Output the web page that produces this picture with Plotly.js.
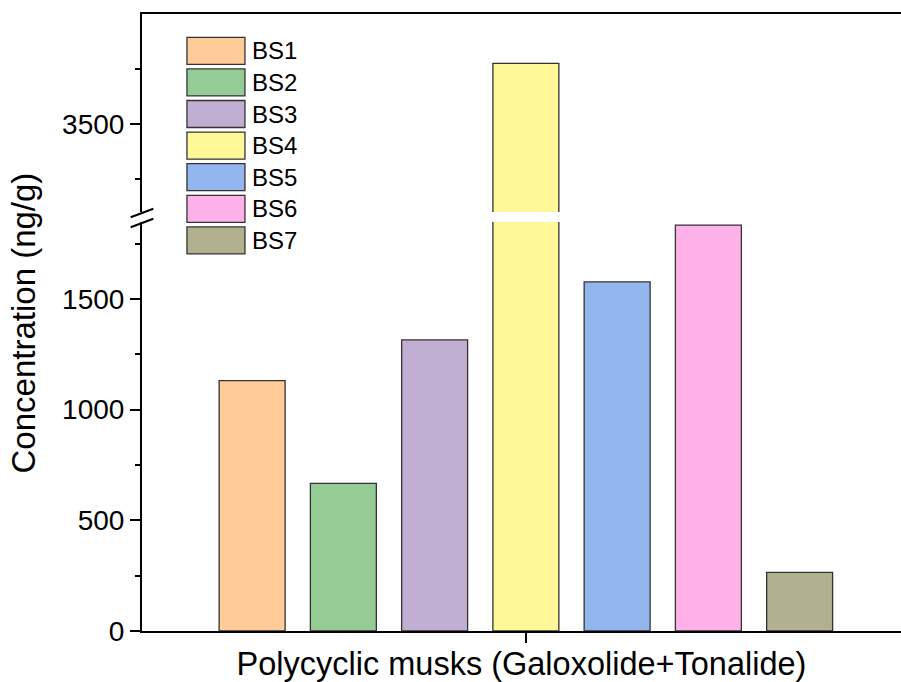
<!DOCTYPE html>
<html>
<head>
<meta charset="utf-8">
<script src="https://cdn.plot.ly/plotly-3.0.1.min.js"></script>
<style>
  html, body { margin: 0; padding: 0; background: #fff; }
  #chart { width: 901px; height: 682px; }
</style>
</head>
<body>
<div id="chart"></div>
<script>
// ---- data ----
const category = ['Polycyclic musks'];
const seriesNames = ['BS1', 'BS2', 'BS3', 'BS4', 'BS5', 'BS6', 'BS7'];
const seriesValues = [1131, 667, 1315, 3774, 1577, 1834, 265];
const seriesColors = ['#FFCC99', '#95CC96', '#C1AED3', '#FFF898', '#93B6EE', '#FFB2EA', '#B1B18F'];
const xTitle = 'Polycyclic musks (Galoxolide+Tonalide)';
const yTitle = 'Concentration (ng/g)';
const lowerRange = [0, 1848];
const upperRange = [3102, 3997];
const lowerTicks = [0, 500, 1000, 1500];
const upperTicks = [3500];

const FONT = '"Liberation Sans", Arial, sans-serif';
const traces = [];
seriesNames.forEach((name, i) => {
  const common = {
    type: 'bar',
    name: name,
    x: category,
    y: [seriesValues[i]],
    legendgroup: name,
    marker: { color: seriesColors[i], line: { color: '#333333', width: 1.3 } },
    hoverinfo: 'name+y'
  };
  traces.push(Object.assign({}, common, { xaxis: 'x', yaxis: 'y', showlegend: true }));
  traces.push(Object.assign({}, common, { xaxis: 'x2', yaxis: 'y2', showlegend: false }));
});

const axisCommon = {
  showline: true, linecolor: '#000', linewidth: 2,
  ticks: 'outside', ticklen: 10, tickwidth: 2, tickcolor: '#000',
  showgrid: false, zeroline: false,
  tickfont: { family: FONT, size: 28, color: '#000' }
};

const layout = {
  width: 901, height: 682,
  margin: { l: 142, r: 0, t: 14, b: 51 },
  paper_bgcolor: '#fff', plot_bgcolor: 'rgba(0,0,0,0)',
  font: { family: FONT, color: '#000' },
  barmode: 'group',
  bargap: 0.168,
  bargroupgap: 0.277,
  showlegend: true,
  legend: {
    x: 0.05, y: 1 - (30 - 14) / 617, xanchor: 'left', yanchor: 'top',
    bgcolor: 'rgba(0,0,0,0)', borderwidth: 0,
    font: { family: FONT, size: 22, color: '#000' },
    itemwidth: 62, traceorder: 'normal'
  },
  xaxis: Object.assign({}, axisCommon, {
    type: 'category', anchor: 'y', domain: [0, 1],
    range: [-0.5, 0.4886],
    tickvals: category, ticktext: [''],
    title: { text: xTitle, font: { family: FONT, size: 32.5, color: '#000' }, standoff: 6 }
  }),
  xaxis2: {
    type: 'category', anchor: 'y2', matches: 'x', side: 'top',
    showline: true, linecolor: '#000', linewidth: 2,
    ticks: '', showticklabels: false, showgrid: false, zeroline: false
  },
  yaxis: Object.assign({}, axisCommon, {
    domain: [0, 0.6629], range: lowerRange, anchor: 'x',
    tickvals: lowerTicks,
    minor: { dtick: 250, tick0: 0, ticks: 'outside', ticklen: 5, tickwidth: 2, tickcolor: '#000', showgrid: false }
  }),
  yaxis2: Object.assign({}, axisCommon, {
    domain: [0.6791, 1], range: upperRange, anchor: 'x2',
    tickvals: upperTicks,
    minor: { dtick: 250, tick0: 0, ticks: 'outside', ticklen: 5, tickwidth: 2, tickcolor: '#000', showgrid: false }
  }),
  shapes: [
    { type: 'line', xref: 'paper', yref: 'paper', x0: -0.0149, x1: 0.0149, y0: 0.6705, y1: 0.6844, line: { color: '#000', width: 2 } },
    { type: 'line', xref: 'paper', yref: 'paper', x0: -0.0149, x1: 0.0149, y0: 0.6543, y1: 0.6682, line: { color: '#000', width: 2 } }
  ],
  annotations: [
    { text: yTitle, xref: 'paper', yref: 'paper', x: -0.1555, y: 0.5, textangle: -90,
      showarrow: false, xanchor: 'center', yanchor: 'middle',
      font: { family: FONT, size: 33, color: '#000' } }
  ]
};

Plotly.newPlot('chart', traces, layout, { displayModeBar: false }).then(gd => {
  // enlarge legend swatches to the wide rectangles of the reference
  document.querySelectorAll('#chart .legend .legendpoints path').forEach(p => {
    p.setAttribute('d', 'M29,13.5H-29V-13.5H29Z');
  });
  // slightly larger legend labels while keeping the reference row spacing
  document.querySelectorAll('#chart .legend text.legendtext').forEach(t => {
    t.style.fontSize = '24px';
  });
});
</script>
</body>
</html>
